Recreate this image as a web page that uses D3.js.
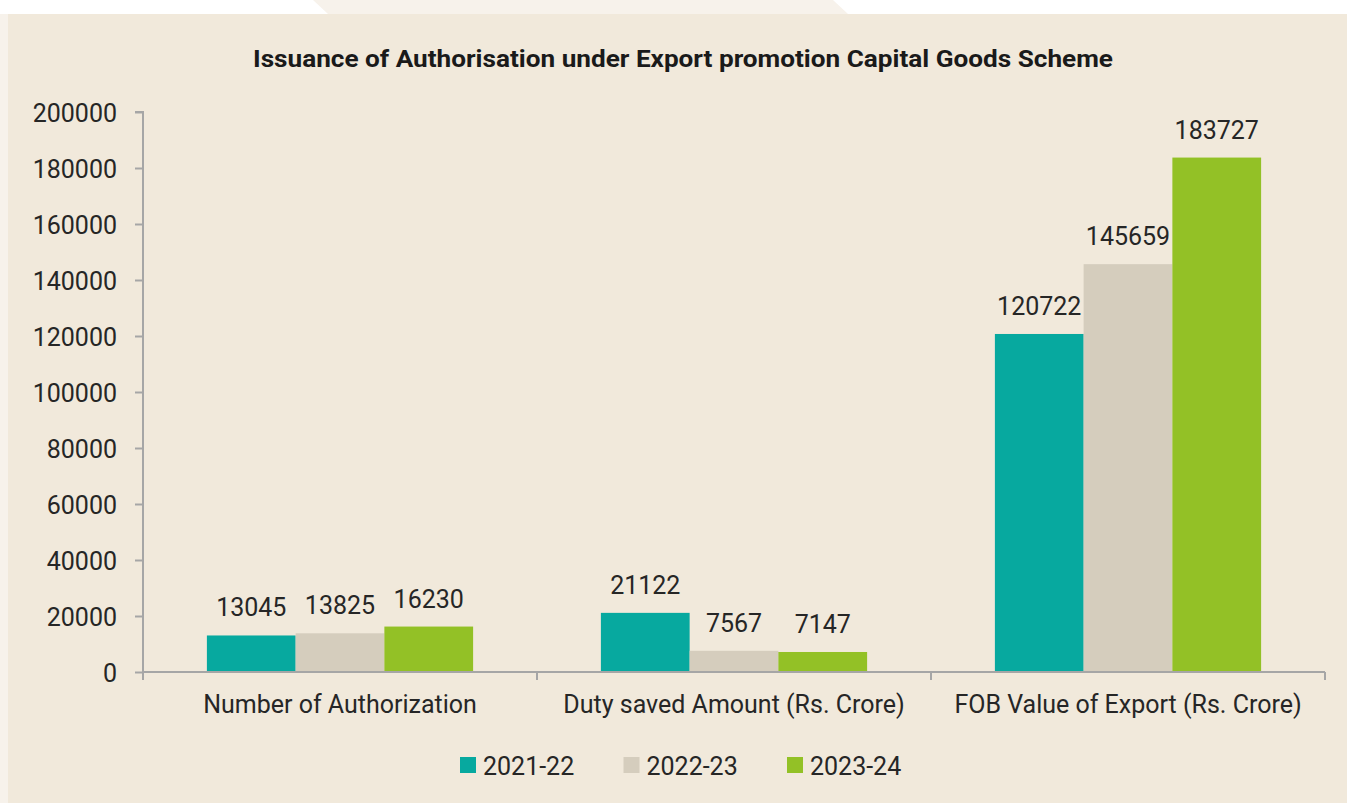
<!DOCTYPE html>
<html>
<head>
<meta charset="utf-8">
<script src="https://cdn.jsdelivr.net/npm/d3@7"></script>
<style>
  html, body { margin: 0; padding: 0; background: #fff; }
  svg { display: block; font-family: Roboto, "Noto Sans", sans-serif; }
</style>
</head>
<body>
<svg id="chart" width="1347" height="803"></svg>
<script>
const TITLE = 'Issuance of Authorisation under Export promotion Capital Goods Scheme';
const CATEGORIES = ['Number of Authorization', 'Duty saved Amount (Rs. Crore)', 'FOB Value of Export (Rs. Crore)'];
const SERIES = ['2021-22', '2022-23', '2023-24'];
const VALUES_2021_22 = [13045, 21122, 120722];
const VALUES_2022_23 = [13825, 7567, 145659];
const VALUES_2023_24 = [16230, 7147, 183727];
const Y_TICKS = [0, 20000, 40000, 60000, 80000, 100000, 120000, 140000, 160000, 180000, 200000];
const COLORS = ['#07a99f', '#d5cdbd', '#93c126'];

const values = [VALUES_2021_22, VALUES_2022_23, VALUES_2023_24];
const rows = CATEGORIES.map((c, i) => ({ cat: c, vals: SERIES.map((s, j) => ({ s, v: values[j][i], j })) }));

const svg = d3.select('#chart');
const W = 1347, H = 803;

// backdrop
svg.append('rect').attr('width', W).attr('height', H).attr('fill', '#ffffff');
svg.append('rect').attr('x', 0).attr('y', 14).attr('width', 8).attr('height', H - 14).attr('fill', '#f7f2eb');
svg.append('polygon').attr('points', '313,0 833,0 848,14 328,14').attr('fill', '#f7f2eb');
svg.append('rect').attr('x', 8).attr('y', 14).attr('width', W - 8).attr('height', H - 14).attr('fill', '#f1e9db');

const pl = 143, pr = 1325, pt = 112, pb = 672;

const x = d3.scaleBand().domain(CATEGORIES).range([pl, pr]).paddingInner(0).paddingOuter(0);
const inner = d3.scaleBand().domain(SERIES).range([0, x.bandwidth()]).paddingOuter(0.72).paddingInner(0);
const y = d3.scaleLinear().domain([0, 200000]).range([pb, pt]);

svg.append('text')
  .attr('x', 683).attr('y', 67)
  .attr('text-anchor', 'middle')
  .attr('font-size', 24).attr('font-weight', 700)
  .attr('fill', '#1a1a1a')
  .attr('textLength', 860).attr('lengthAdjust', 'spacingAndGlyphs')
  .text(TITLE);

// y axis
const yAxis = svg.append('g').attr('transform', `translate(${pl},0)`)
  .call(d3.axisLeft(y).tickValues(Y_TICKS).tickSize(8).tickPadding(18).tickFormat(d3.format('d')));
yAxis.select('.domain').attr('stroke', '#a6a6a6').attr('stroke-width', 2).attr('d', `M-8,${pt}H0V${pb}`);
yAxis.selectAll('.tick line').attr('stroke', '#a6a6a6').attr('stroke-width', 2);
yAxis.selectAll('.tick text').attr('font-size', 25).attr('fill', '#262626').attr('font-family', 'Roboto').attr('dy', '0.36em');

// bars
const groups = svg.append('g').selectAll('g').data(rows).join('g')
  .attr('transform', d => `translate(${x(d.cat)},0)`);

groups.selectAll('rect').data(d => d.vals).join('rect')
  .attr('x', d => inner(d.s))
  .attr('y', d => y(d.v))
  .attr('width', inner.bandwidth())
  .attr('height', d => y(0) - y(d.v))
  .attr('fill', d => COLORS[d.j]);

groups.selectAll('text').data(d => d.vals).join('text')
  .attr('x', d => inner(d.s) + inner.bandwidth() / 2)
  .attr('y', d => y(d.v) - 19)
  .attr('text-anchor', 'middle')
  .attr('font-size', 25)
  .attr('fill', '#262626')
  .text(d => d.v);

// x axis
const xAxis = svg.append('g').attr('transform', `translate(0,${pb})`)
  .call(d3.axisBottom(x).tickSize(0).tickPadding(23));
xAxis.select('.domain').attr('stroke', '#a6a6a6').attr('stroke-width', 2).attr('d', `M${pl},0H${pr}`);
xAxis.selectAll('.tick text').attr('font-size', 25).attr('fill', '#262626').attr('font-family', 'Roboto');
const edges = CATEGORIES.map(c => x(c)).concat([pr]);
xAxis.selectAll('.sep').data(edges).join('line').attr('class', 'sep')
  .attr('x1', d => d).attr('x2', d => d).attr('y1', 0).attr('y2', 8)
  .attr('stroke', '#a6a6a6').attr('stroke-width', 2);

// legend
const legend = svg.append('g').attr('transform', 'translate(460,757)');
const li = legend.selectAll('g').data(SERIES).join('g')
  .attr('transform', (d, i) => `translate(${i * 163.5},0)`);
li.append('rect').attr('width', 16).attr('height', 16).attr('fill', (d, i) => COLORS[i]);
li.append('text').attr('x', 23).attr('y', 18).attr('font-size', 25).attr('fill', '#262626').text(d => d);
</script>
</body>
</html>
